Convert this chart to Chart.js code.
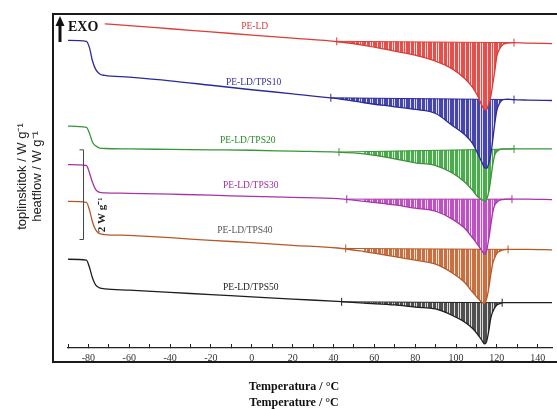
<!DOCTYPE html>
<html>
<head>
<meta charset="utf-8">
<title>DSC PE-LD/TPS</title>
<style>
  body { margin: 0; background: #fff; }
  #wrap { position: relative; width: 557px; height: 409px; overflow: hidden; }
  #frame { position: absolute; left: 52px; top: 13px; width: 600px; height: 346px;
           border-left: 2px solid #1a1a1a; border-top: 2px solid #1a1a1a; border-bottom: 2px solid #1a1a1a; }
  canvas { position: absolute; left: 0; top: 0; }
</style>
</head>
<body>
<div id="wrap">
  <div id="frame"></div>
  <canvas id="dsc" width="557" height="409"></canvas>
</div>
<script src="https://cdn.jsdelivr.net/npm/chart.js"></script>
<script>
// temperature points (°C), shared by all curves
const temps = [-90, -81, -79.5, -78, -76.5, -74.5, -72, -60, -40, -20, 0, 20, 42, 55, 70, 80, 90, 98, 104.5, 108,
               110.5, 113, 114, 115, 116, 117, 118, 119, 120, 121.5, 123, 125, 128, 135, 147];

// heat flow, W/g (curves shifted vertically as in the figure)
const peLD  = [null, null, null, null, null, null, 7.23, 7.19, 7.12, 7.05, 6.98, 6.91, 6.83, 6.75, 6.62, 6.53, 6.40, 6.23, 6.00, 5.82,
               5.63, 5.38, 5.31, 5.32, 5.45, 5.60, 5.89, 6.18, 6.51, 6.68, 6.77, 6.80, 6.81, 6.80, 6.79];
const tps10 = [6.86, 6.84, 6.70, 6.40, 6.22, 6.11, 6.08, 6.04, 5.96, 5.86, 5.76, 5.67, 5.56, 5.47, 5.38, 5.32, 5.23, 4.97, 4.75, 4.57,
               4.35, 4.11, 4.02, 4.01, 4.11, 4.31, 4.64, 5.01, 5.30, 5.47, 5.54, 5.55, 5.54, 5.53, 5.52];
const tps20 = [4.95, 4.92, 4.79, 4.59, 4.51, 4.46, 4.45, 4.44, 4.43, 4.42, 4.41, 4.39, 4.37, 4.33, 4.22, 4.13, 4.07, 3.91, 3.69, 3.52,
               3.38, 3.30, 3.27, 3.32, 3.47, 3.76, 4.09, 4.31, 4.38, 4.43, 4.44, 4.44, 4.44, 4.44, 4.44];
const tps30 = [4.09, 4.07, 3.91, 3.69, 3.54, 3.47, 3.46, 3.45, 3.43, 3.41, 3.38, 3.36, 3.33, 3.27, 3.19, 3.12, 3.05, 2.88, 2.66, 2.46,
               2.31, 2.15, 2.09, 2.18, 2.42, 2.73, 3.03, 3.19, 3.25, 3.30, 3.31, 3.32, 3.32, 3.32, 3.31];
const tps40 = [3.27, 3.25, 3.08, 2.81, 2.64, 2.55, 2.53, 2.51, 2.46, 2.40, 2.35, 2.29, 2.23, 2.15, 2.04, 1.96, 1.87, 1.68, 1.45, 1.25,
               1.12, 1.01, 0.99, 1.10, 1.32, 1.63, 1.89, 2.02, 2.11, 2.16, 2.19, 2.20, 2.20, 2.20, 2.19];
const tps50 = [1.98, 1.96, 1.80, 1.56, 1.41, 1.34, 1.32, 1.29, 1.24, 1.19, 1.14, 1.09, 1.04, 1.00, 0.96, 0.91, 0.87, 0.73, 0.57, 0.44,
               0.31, 0.15, 0.09, 0.15, 0.37, 0.66, 0.81, 0.90, 0.96, 0.99, 1.01, 1.01, 1.01, 1.01, 1.01];

const sampleNames = ['PE-LD', 'PE-LD/TPS10', 'PE-LD/TPS20', 'PE-LD/TPS30', 'PE-LD/TPS40', 'PE-LD/TPS50'];

// melting peak integration baseline (start / end)
const baseStartT = [41.6, 38.7, 42.7, 46.5, 46.0, 44.0];
const baseStartV = [6.84, 5.58, 4.37, 3.32, 2.22, 1.03];
const baseEndT   = [128.4, 128.4, 128.4, 127.4, 125.5, 122.6];
const baseEndV   = [6.81, 5.54, 4.44, 3.32, 2.20, 1.01];

const xTicksStep = 10;

// styling
const lineColors = ['#dc3c38', '#2b2b98', '#3a943a', '#a834a8', '#b5592a', '#1e1e1e'];
const fillColors = ['#e4504c', '#4646ae', '#4cab4c', '#bf52c2', '#c87040', '#505050'];
const textColors = ['#d04040', '#3030a0', '#2a8a2a', '#a030a0', '#555555', '#222222'];
// where the sample names sit (°C, W/g)
const namePos = [[1.4, 7.16], [0.9, 5.93], [-2.0, 4.62], [-0.5, 3.63], [-3.4, 2.62], [-0.5, 1.34]];

const canvas = document.getElementById('dsc');
const ctx = canvas.getContext('2d');

function hatch(color) {
  const c = document.createElement('canvas');
  c.width = 11; c.height = 2;
  const g = c.getContext('2d');
  g.fillStyle = color;
  g.fillRect(0, 0, 11, 2);
  g.fillStyle = 'rgba(255,255,255,0.8)';
  [3, 7, 9].forEach(i => g.fillRect(i, 0, 1, 2));
  return ctx.createPattern(c, 'repeat');
}

const series = [peLD, tps10, tps20, tps30, tps40, tps50];
const datasets = [];
series.forEach((vals, i) => {
  const pts = temps.map((t, k) => ({x: t, y: vals[k]}));
  const peak = pts.filter(p => p.y !== null && p.x >= baseStartT[i] && p.x <= baseEndT[i]);
  datasets.push({
    data: pts, borderColor: lineColors[i], borderWidth: 1.3, pointRadius: 0,
    cubicInterpolationMode: 'monotone', fill: false
  });
  datasets.push({
    data: [{x: baseStartT[i], y: baseStartV[i]}, {x: baseEndT[i], y: baseEndV[i]}],
    borderColor: lineColors[i], borderWidth: 1, pointStyle: 'line', rotation: 90,
    pointRadius: 4, pointBorderColor: lineColors[i], pointBorderWidth: 1, fill: false
  });
  datasets.push({
    data: peak, borderWidth: 0, pointRadius: 0, cubicInterpolationMode: 'monotone',
    backgroundColor: hatch(fillColors[i]), fill: '-1'
  });
});

const decor = {
  id: 'decor',
  afterDraw(chart) {
    const {ctx, scales: {x, y}, chartArea} = chart;
    ctx.save();
    // sample names
    ctx.textAlign = 'center';
    ctx.textBaseline = 'middle';
    ctx.font = '9.5px "Liberation Serif"';
    sampleNames.forEach((n, i) => {
      ctx.fillStyle = textColors[i];
      ctx.fillText(n, x.getPixelForValue(namePos[i][0]), y.getPixelForValue(namePos[i][1]));
    });
    // EXO arrow
    const ax = chartArea.left - 8;
    ctx.strokeStyle = '#111';
    ctx.fillStyle = '#111';
    ctx.lineWidth = 3;
    ctx.beginPath(); ctx.moveTo(ax, 42); ctx.lineTo(ax, 25); ctx.stroke();
    ctx.beginPath(); ctx.moveTo(ax - 4.5, 26); ctx.lineTo(ax + 4.5, 26); ctx.lineTo(ax, 16); ctx.closePath(); ctx.fill();
    ctx.font = 'bold 14px "Liberation Serif"';
    ctx.textAlign = 'left';
    ctx.fillText('EXO', chartArea.left, 27);
    // 2 W/g scale bar
    const sx = x.getPixelForValue(-82.4);
    const y0 = y.getPixelForValue(2.42), y1 = y.getPixelForValue(4.42);
    ctx.strokeStyle = '#444';
    ctx.lineWidth = 1;
    ctx.beginPath();
    ctx.moveTo(sx - 4, y1); ctx.lineTo(sx, y1); ctx.lineTo(sx, y0); ctx.lineTo(sx - 4, y0);
    ctx.stroke();
    ctx.save();
    ctx.translate(x.getPixelForValue(-73.2), y.getPixelForValue(2.97));
    ctx.rotate(-Math.PI / 2);
    ctx.textAlign = 'center';
    ctx.font = 'bold 11px "Liberation Serif"';
    ctx.fillStyle = '#222';
    ctx.fillText('2 W g\u207B\u00B9', 0, 0);
    ctx.restore();
    // x axis title
    const cx = (chartArea.left + chartArea.right) / 2 - 16;
    ctx.textAlign = 'center';
    ctx.font = 'bold 12px "Liberation Serif"';
    ctx.fillStyle = '#111';
    ctx.fillText('Temperatura / \u00B0C', cx, 387);
    ctx.fillText('Temperature / \u00B0C', cx, 403);
    ctx.restore();
  }
};

new Chart(canvas, {
  type: 'line',
  data: { datasets: datasets },
  options: {
    responsive: false,
    animation: false,
    layout: { padding: { left: 10, top: 0, right: 0, bottom: 0 } },
    plugins: { legend: { display: false }, tooltip: { enabled: false } },
    scales: {
      x: {
        type: 'linear', min: -90, max: 147,
        afterFit: s => { s.height = 61; },
        border: { display: true, color: '#222', width: 1.2 },
        grid: { drawOnChartArea: false, drawTicks: true, tickLength: -4, color: '#222' },
        ticks: {
          stepSize: xTicksStep, includeBounds: false, autoSkip: false, maxRotation: 0,
          padding: 8, color: '#333', font: { family: 'Liberation Serif', size: 10 },
          callback: v => (v % 20 === 0 ? String(v) : '')
        }
      },
      y: {
        min: 0, max: 7.65,
        afterFit: s => { s.width = 58; },
        ticks: { display: false },
        grid: { display: false },
        border: { display: false },
        title: {
          display: true,
          text: ['toplinskitok / W g\u207B\u00B9', 'heatflow / W g\u207B\u00B9'],
          color: '#222',
          font: { family: 'Liberation Sans', size: 13, lineHeight: 1.15 },
          padding: { top: 5, bottom: 0 }
        }
      }
    }
  },
  plugins: [decor]
});
</script>
</body>
</html>
